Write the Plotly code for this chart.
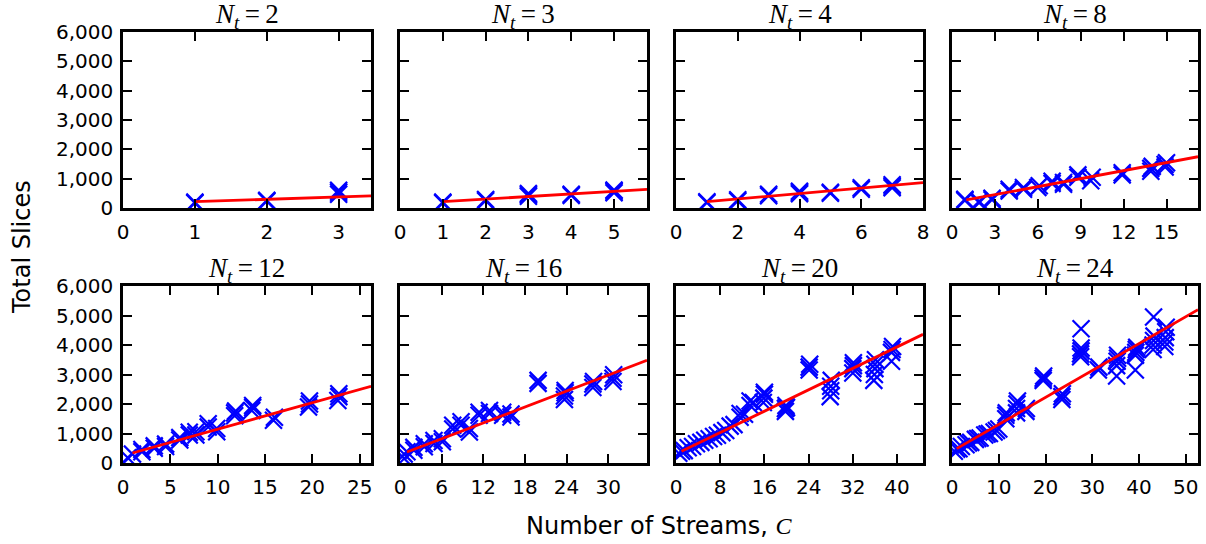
import plotly.graph_objects as go

# ---------------- data ----------------
nt_values = [2, 3, 4, 8, 12, 16, 20, 24]

c_nt2 = [1, 1, 2, 2, 3, 3, 3]
s_nt2 = [170, 200, 230, 260, 470, 540, 600]

c_nt3 = [1, 1, 2, 2, 3, 3, 3, 4, 4, 5, 5, 5]
s_nt3 = [170, 200, 250, 290, 400, 450, 490, 430, 470, 520, 570, 610]

c_nt4 = [1, 1, 2, 2, 3, 3, 4, 4, 4, 5, 5, 6, 6, 7, 7, 7]
s_nt4 = [180, 210, 240, 280, 420, 470, 490, 530, 570, 500, 540, 640, 690, 690, 740, 790]

c_nt8 = [0.9, 0.9, 1.9, 1.9, 2.8, 2.8, 4.0, 4.0, 5.0, 5.0, 6.0, 6.1, 7.0, 7.0,
         7.8, 7.8, 8.8, 8.8, 9.7, 9.8, 11.9, 11.9, 13.9, 13.9, 14.0, 14.9, 14.9, 15.0]
s_nt8 = [260, 300, 180, 230, 280, 330, 580, 640, 640, 700, 700, 760, 840, 910,
         810, 870, 1050, 1130, 930, 1050, 1130, 1200, 1250, 1350, 1420, 1400, 1480, 1540]

c_nt12 = [0.5, 1.0, 2.0, 2.0, 3.3, 3.3, 4.5, 4.5, 6.0, 6.0, 7.0, 7.0, 7.7, 7.7,
          9.0, 9.0, 9.9, 9.9, 11.8, 11.8, 11.9, 13.6, 13.7, 13.7, 15.9, 16.0,
          19.6, 19.7, 19.7, 22.7, 22.8, 22.8]
s_nt12 = [180, 300, 380, 460, 500, 580, 560, 640, 780, 860, 950, 1040, 950, 1060,
          1220, 1330, 1060, 1170, 1600, 1700, 1760, 1780, 1880, 1950, 1450, 1550,
          1900, 2000, 2100, 2120, 2250, 2350]

c_nt16 = [0.6, 0.6, 1.0, 2.0, 2.0, 3.5, 3.5, 4.9, 4.9, 6.1, 6.1, 7.6, 7.6, 8.8, 8.8,
          10.0, 10.0, 11.4, 11.4, 12.9, 12.9, 14.8, 14.8, 16.0, 16.0, 19.9, 19.9,
          23.7, 23.7, 23.8, 23.8, 27.8, 27.8, 27.9, 30.7, 30.7, 30.8]
s_nt16 = [150, 300, 380, 430, 530, 550, 650, 660, 760, 720, 820, 1150, 1280, 1280, 1400,
          1050, 1170, 1620, 1720, 1680, 1780, 1620, 1720, 1560, 1660, 2700, 2800,
          2150, 2270, 2380, 2460, 2560, 2680, 2760, 2760, 2870, 2990]

c_nt20 = [0.5, 1.0, 1.5, 2.2, 3.0, 3.7, 4.5, 5.2, 6.0, 6.8, 7.5, 8.3, 9.0, 9.8, 10.5,
          11.6, 11.6, 12.4, 13.4, 13.4, 14.0, 15.8, 15.9, 16.0, 16.0,
          19.8, 19.8, 19.9, 20.0, 24.1, 24.1, 24.2, 27.9, 28.0, 28.0, 28.1,
          32.0, 32.0, 32.1, 32.1, 35.8, 35.9, 36.0, 36.0, 36.1, 39.0, 39.0, 39.1, 39.2]
s_nt20 = [330, 400, 420, 520, 560, 650, 700, 770, 820, 900, 940, 1030, 1100, 1250, 1300,
          1550, 1680, 1650, 1950, 2100, 2050, 2050, 2200, 2330, 2400,
          1750, 1850, 1950, 1880, 3150, 3250, 3350, 2250, 2450, 2600, 2800,
          3050, 3200, 3300, 3400, 2800, 3000, 3200, 3350, 3500, 3450, 3750, 3850, 3950]

c_nt24 = [0.5, 1.0, 1.5, 2.0, 3.0, 3.5, 4.0, 5.0, 5.5, 6.0, 7.0, 7.5, 8.0, 9.0, 9.5, 10.0,
          11.5, 11.5, 11.6, 13.8, 13.8, 13.9, 14.0, 15.8, 15.9,
          19.5, 19.5, 19.6, 23.5, 23.5, 23.6, 27.5, 27.5, 27.6, 27.6, 27.6,
          31.3, 31.4, 35.2, 35.2, 35.3, 35.4, 35.4, 39.2, 39.2, 39.3, 39.4, 39.5,
          43.0, 43.0, 43.1, 43.2, 43.1, 45.5, 45.5, 45.6, 45.7, 45.8]
s_nt24 = [400, 470, 480, 560, 620, 680, 700, 800, 830, 850, 950, 980, 1000, 1050, 1100, 1150,
          1500, 1620, 1700, 1700, 1850, 2000, 2100, 1750, 1850,
          2800, 2870, 2950, 2150, 2250, 2350, 3600, 3700, 3800, 3900, 4550,
          3150, 3250, 2950, 3300, 3450, 3550, 3650, 3150, 3650, 3750, 3850, 3920,
          3850, 4000, 4150, 4300, 4950, 3950, 4100, 4250, 4450, 4600]

c_data = [c_nt2, c_nt3, c_nt4, c_nt8, c_nt12, c_nt16, c_nt20, c_nt24]
s_data = [s_nt2, s_nt3, s_nt4, s_nt8, s_nt12, s_nt16, s_nt20, s_nt24]

# linear fit (slope, intercept) per panel
fit_slope = [80, 88.6, 92.6, 91, 89.7, 89.8, 90.7, 91.3]
fit_intercept = [135, 126, 122, 182, 249, 283, 306, 397]

# axis settings
x_max = [3.45, 5.77, 8.0, 17.2, 26.2, 35.6, 44.7, 52.6]
x_tick_step = [1, 1, 2, 3, 5, 6, 8, 10]
x_tick_last = [3, 5, 8, 15, 25, 30, 40, 50]
y_ticks = [0, 1000, 2000, 3000, 4000, 5000, 6000]

# ---------------- layout geometry (pixels) ----------------
W, H = 1206, 544
col_px = [(123, 371), (400, 647), (676, 923), (952, 1198)]
row_px = [(32, 208), (286, 463)]


def fx(px):
    return px / W


def fy(py):
    return 1 - py / H


fig = go.Figure()
layout = dict(
    width=W, height=H,
    margin=dict(l=0, r=0, t=0, b=0, pad=0, autoexpand=False),
    paper_bgcolor="white", plot_bgcolor="white",
    showlegend=False,
    font=dict(family="DejaVu Sans", size=20, color="black"),
)
annotations = []

for i, nt in enumerate(nt_values):
    r, c = divmod(i, 4)
    x0, x1 = col_px[c]
    y0, y1 = row_px[r]
    ax = "" if i == 0 else str(i + 1)
    xa, ya = "x" + ax, "y" + ax

    fig.add_trace(go.Scatter(
        x=c_data[i], y=s_data[i], mode="markers",
        marker=dict(symbol="x-thin", size=17, line=dict(color="#0000ff", width=2.2)),
        xaxis=xa, yaxis=ya,
    ))
    lx = [1, x_max[i]]
    ly = [fit_slope[i] * v + fit_intercept[i] for v in lx]
    fig.add_trace(go.Scatter(
        x=lx, y=ly, mode="lines", line=dict(color="#ff0000", width=2.8),
        xaxis=xa, yaxis=ya,
    ))

    tickvals = list(range(0, x_tick_last[i] + 1, x_tick_step[i]))
    layout["xaxis" + ax] = dict(
        domain=[fx(x0), fx(x1)], anchor=ya, range=[0, x_max[i]],
        tickvals=tickvals, ticks="inside", ticklen=9, tickwidth=1.5, tickcolor="black",
        showline=True, linewidth=2.5, linecolor="black", mirror="allticks",
        showgrid=False, zeroline=False, ticklabelstandoff=4, automargin=False,
        tickfont=dict(family="DejaVu Sans", size=20, color="black"),
    )
    layout["yaxis" + ax] = dict(
        domain=[fy(y1), fy(y0)], anchor=xa, range=[0, 6000],
        tickvals=y_ticks, tickformat=",d", ticks="inside", ticklen=9, tickwidth=1.5,
        tickcolor="black", showline=True, linewidth=2.5, linecolor="black",
        mirror="allticks", showgrid=False, zeroline=False, automargin=False,
        showticklabels=(c == 0), ticklabelstandoff=3,
        tickfont=dict(family="DejaVu Sans", size=20, color="black"),
    )
    annotations.append(dict(
        text="<i>N</i><sub><i>t</i></sub>\u2009=\u2009" + str(nt),
        x=(fx(x0) + fx(x1)) / 2, y=fy(y0 + 3), xref="paper", yref="paper",
        xanchor="center", yanchor="bottom", showarrow=False,
        font=dict(family="Liberation Serif", size=27, color="black"),
    ))

annotations.append(dict(
    text="Number of Streams, <span style='font-family:Liberation Serif'><i>C</i></span>",
    x=fx(659), y=fy(526), xref="paper", yref="paper",
    xanchor="center", yanchor="middle", showarrow=False,
    font=dict(family="DejaVu Sans", size=24, color="black"),
))
annotations.append(dict(
    text="Total Slices", textangle=-90,
    x=fx(22), y=fy(247), xref="paper", yref="paper",
    xanchor="center", yanchor="middle", showarrow=False,
    font=dict(family="DejaVu Sans", size=24, color="black"),
))
layout["annotations"] = annotations
fig.update_layout(**layout)
fig.write_html("out.html", config={"displayModeBar": False},
               post_script="document.body.style.margin='0px';")
